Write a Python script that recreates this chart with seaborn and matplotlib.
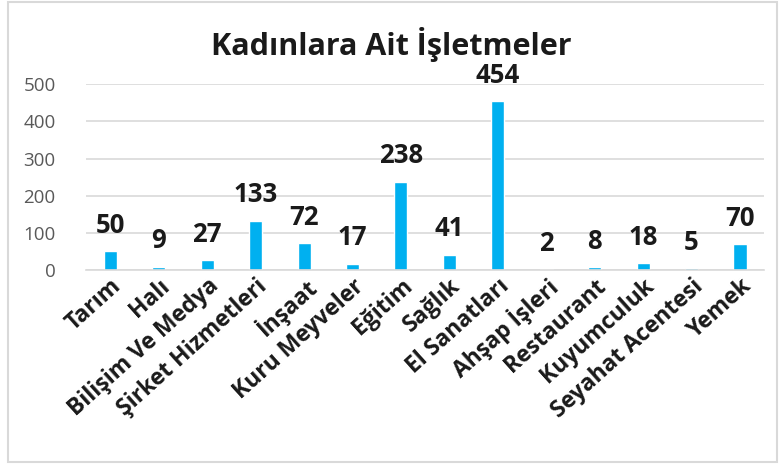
import seaborn as sns
import matplotlib.pyplot as plt
from matplotlib.patches import Rectangle
import pandas as pd

categories = ["Tarım", "Halı", "Bilişim Ve Medya", "Şirket Hizmetleri", "İnşaat",
              "Kuru Meyveler", "Eğitim", "Sağlık", "El Sanatları", "Ahşap İşleri",
              "Restaurant", "Kuyumculuk", "Seyahat Acentesi", "Yemek"]
values = [50, 9, 27, 133, 72, 17, 238, 41, 454, 2, 8, 18, 5, 70]
yticks = [0, 100, 200, 300, 400, 500]

sns.set_style('white')
plt.rcParams['font.family'] = ['Open Sans', 'DejaVu Sans']

df = pd.DataFrame({'kategori': categories, 'sayi': values})

fig = plt.figure(figsize=(7.83, 4.68), dpi=100)
ax = fig.add_axes([0.110, 0.423, 0.866, 0.397])
sns.barplot(data=df, x='kategori', y='sayi', color='#00B0F0', saturation=1,
            width=0.27, ax=ax)

ax.set_ylim(0, 500)
ax.set_xlim(-0.5, len(categories) - 0.5)
ax.set_yticks(yticks)
ax.set_yticklabels([str(t) for t in yticks], fontsize=13.5, color='#595959')
ax.yaxis.grid(True, color='#D9D9D9', linewidth=1.2)
ax.set_axisbelow(True)
for s in ['top', 'right', 'left']:
    ax.spines[s].set_visible(False)
ax.spines['bottom'].set_color('#D9D9D9')
ax.spines['bottom'].set_linewidth(1.2)
ax.tick_params(axis='both', length=0)
ax.tick_params(axis='y', pad=22)
ax.tick_params(axis='x', pad=3)
ax.set_xlabel('')
ax.set_ylabel('')
ax.set_xticks(range(len(categories)))
ax.set_xticklabels(categories, rotation=42, ha='right', rotation_mode='anchor',
                   fontsize=16.5, fontweight='bold', color='#1a1a1a')

for i, v in enumerate(values):
    ax.annotate(str(v), (i, v), xytext=(0, 9), textcoords='offset points',
                ha='center', va='bottom', fontsize=18.5, fontweight='bold', color='#1a1a1a')

fig.text(0.5, 0.905, 'Kadınlara Ait İşletmeler', ha='center', va='center',
         fontsize=22, fontweight='bold', color='#1a1a1a')

fig.patches.append(Rectangle((8 / 783, 6 / 468), 769 / 783, 460 / 468,
                             transform=fig.transFigure, fill=False,
                             edgecolor='#D9D9D9', linewidth=1.5))

fig.savefig('out.png', dpi=100)
